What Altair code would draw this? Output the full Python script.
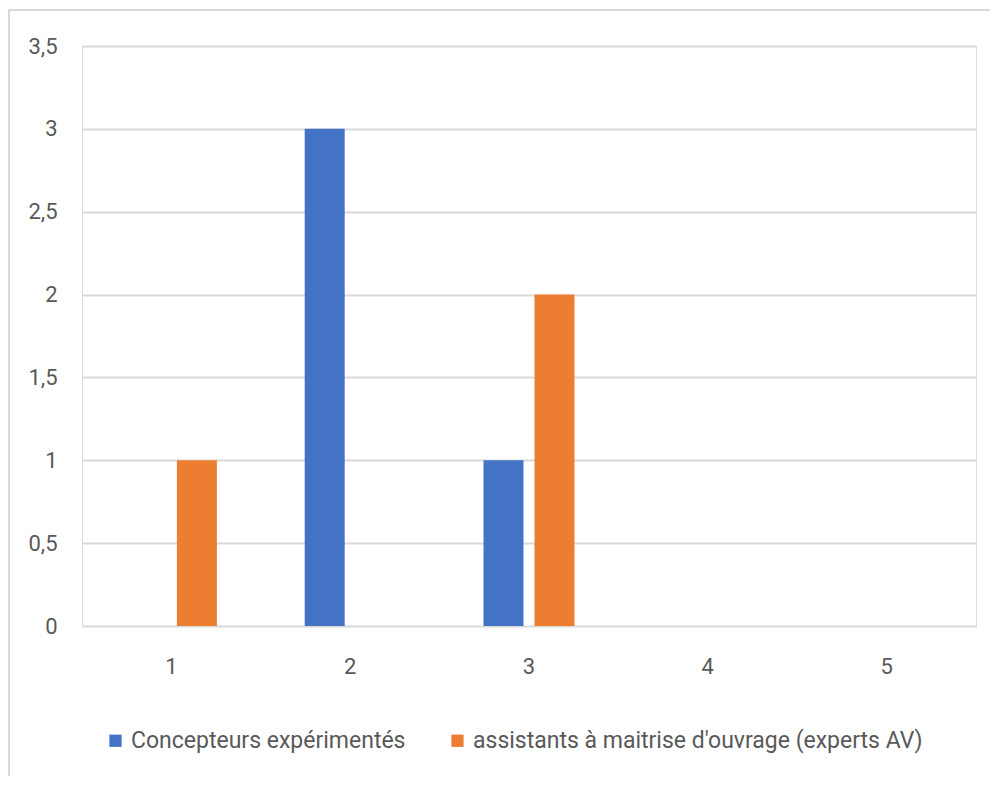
import altair as alt
import pandas as pd

categories = ["1", "2", "3", "4", "5"]
series_names = ["Concepteurs expérimentés", "assistants à maitrise d'ouvrage (experts AV)"]
concepteurs = [0, 3, 1, 0, 0]
assistants = [1, 0, 2, 0, 0]
colors = ["#4472C4", "#ED7D31"]

rows = []
for c, v in zip(categories, concepteurs):
    rows.append({"cat": c, "serie": series_names[0], "val": v})
for c, v in zip(categories, assistants):
    rows.append({"cat": c, "serie": series_names[1], "val": v})
df = pd.DataFrame(rows)

FONT = "Roboto"

bars = alt.Chart(df).mark_bar().encode(
    x=alt.X("cat:N", sort=categories, title=None,
            scale=alt.Scale(paddingInner=0, paddingOuter=0),
            axis=alt.Axis(labelAngle=0, ticks=False, domain=False, labelPadding=30,
                          labelFontSize=22, labelColor="#595959", labelFont=FONT)),
    xOffset=alt.XOffset("serie:N", sort=series_names,
                        scale=alt.Scale(paddingInner=0.216, paddingOuter=0.861)),
    y=alt.Y("val:Q", title=None,
            scale=alt.Scale(domain=[0, 3.5], nice=False),
            axis=alt.Axis(values=[0, 0.5, 1, 1.5, 2, 2.5, 3, 3.5],
                          labelExpr="replace(format(datum.value, '~g'), '.', ',')",
                          ticks=False, domain=False, labelPadding=25,
                          labelFontSize=22, labelColor="#595959", labelFont=FONT,
                          gridColor="#d9d9d9", gridWidth=2)),
    color=alt.Color("serie:N", sort=series_names, title=None,
                    scale=alt.Scale(domain=series_names, range=colors),
                    legend=alt.Legend(orient="none", legendX=22, legendY=683, direction="horizontal",
                                      symbolType="square", symbolSize=150, symbolStrokeWidth=0,
                                      labelFontSize=23, labelColor="#595959", labelFont=FONT,
                                      labelLimit=0, columnPadding=40, labelOffset=4)),
)

top_border = alt.Chart(df).mark_rule(color="#d9d9d9", strokeWidth=2, clip=False).encode(
    x=alt.value(-74), x2=alt.value(920), y=alt.value(-36)
)
left_border = alt.Chart(df).mark_rule(color="#d9d9d9", strokeWidth=2, clip=False).encode(
    x=alt.value(-73), y=alt.value(-36), y2=alt.value(760)
)

chart = alt.layer(bars, top_border, left_border).properties(
    width=894, height=580,
    autosize=alt.AutoSizeParams(type="none"),
    padding={"left": 74, "top": 38, "right": 14, "bottom": 150},
).configure_view(stroke=None).configure(background="white")

chart.save("out.html", embed_options={"renderer": "svg", "actions": False})
